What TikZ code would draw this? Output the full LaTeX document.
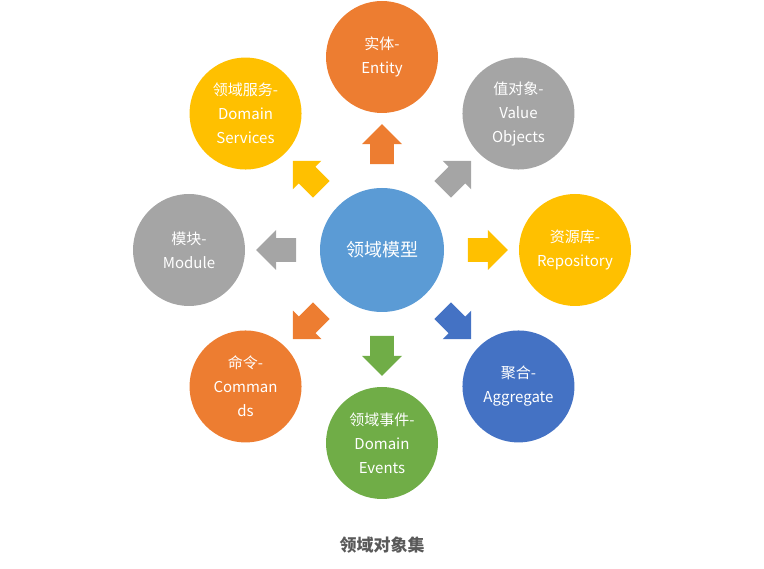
\documentclass[tikz,border=0pt]{standalone}
\usepackage{fontspec}
\setmainfont{Noto Sans CJK SC}
\usetikzlibrary{shapes.arrows}
\definecolor{domorange}{HTML}{ED7D31}
\definecolor{domgray}{HTML}{A5A5A5}
\definecolor{domyellow}{HTML}{FFC000}
\definecolor{domblue}{HTML}{4472C4}
\definecolor{domgreen}{HTML}{70AD47}
\definecolor{domcenter}{HTML}{5B9BD5}
\definecolor{captiongray}{HTML}{595959}
\tikzset{
  objcircle/.style={circle,fill=#1,minimum size=112pt,inner sep=0pt,text=white,
    align=center,font=\fontsize{15}{24}\selectfont},
  outarrow/.style={single arrow,fill=#1,minimum height=40pt,minimum width=40pt,
    inner xsep=0pt,inner ysep=10pt,single arrow head indent=0pt}
}
\begin{document}
\begin{tikzpicture}[x=1pt,y=-1pt]
\useasboundingbox (0,0) rectangle (764,569);
\node[objcircle=domcenter,minimum size=124pt,font=\fontsize{18}{22}\selectfont] (model) at (382,250) {领域模型};
\foreach \ang/\nm/\col/\txt in {90/entity/domorange/{实体-\\Entity},
  45/value/domgray/{值对象-\\Value\\Objects},
  0/repo/domyellow/{资源库-\\Repository},
  -45/aggr/domblue/{聚合-\\Aggregate},
  -90/event/domgreen/{领域事件-\\Domain\\Events},
  -135/cmd/domorange/{命令-\\Comman\\ds},
  180/module/domgray/{模块-\\Module},
  135/service/domyellow/{领域服务-\\Domain\\Services}}{
  \node[objcircle=\col] (\nm) at ([shift={(-\ang:193)}]model.center) {\txt};
  \node[outarrow=\col,rotate=\ang] (arr-\nm) at ([shift={(-\ang:100)}]model.center) {};
}
\node[font=\bfseries\fontsize{17}{20}\selectfont,text=captiongray] (caption) at (382,545) {领域对象集};
\end{tikzpicture}
\end{document}
